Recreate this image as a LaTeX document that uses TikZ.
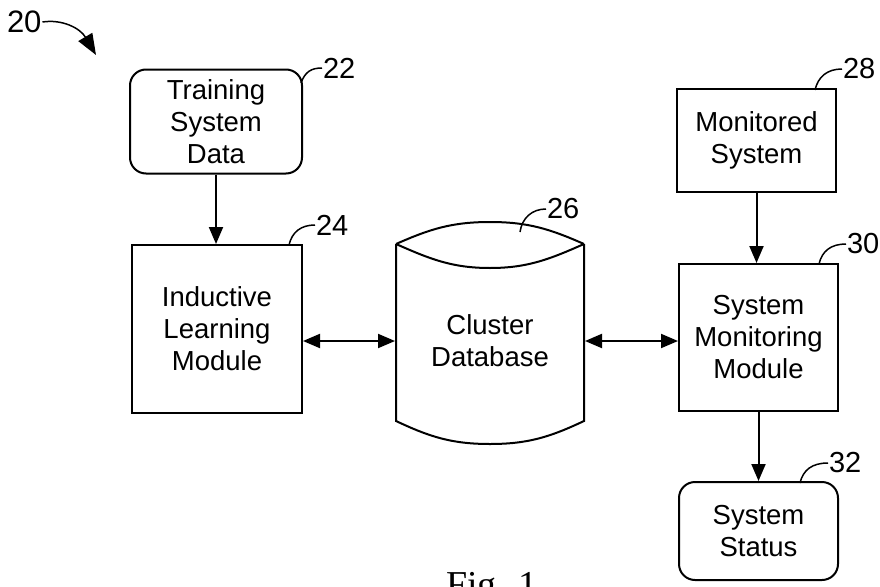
\documentclass[tikz,border=0pt]{standalone}
\usepackage{fontspec}
\setmainfont{Liberation Sans}
\newfontfamily\figfont{Liberation Serif}
\usetikzlibrary{arrows.meta}
\begin{document}
\begin{tikzpicture}[x=1pt,y=-1pt,
  line width=2pt,
  box/.style={draw, rectangle, align=center, inner sep=0pt, font=\fontsize{27.5}{32}\selectfont},
  rbox/.style={box, rounded corners=16pt},
  lbl/.style={font=\fontsize{29}{32}\selectfont, inner sep=0pt, anchor=west},
  arr/.style={-{Triangle[length=17pt,width=14pt]}},
  darr/.style={{Triangle[length=17pt,width=14pt]}-{Triangle[length=17pt,width=14pt]}},
  lead/.style={line width=1.5pt}]
\useasboundingbox (0,0) rectangle (880,586);

% boxes
\node[rbox, minimum width=172pt, minimum height=104pt] (tsd) at (216,121.5) {Training\\System\\Data};
\node[box, minimum width=170pt, minimum height=168pt] (ilm) at (217,329) {Inductive\\Learning\\Module};
\node[box, draw=none, minimum width=188pt, minimum height=160pt] (db) at (490,341) {Cluster\\Database};
\node[box, minimum width=159pt, minimum height=103pt] (mon) at (756.5,140.5) {Monitored\\System};
\node[box, minimum width=159pt, minimum height=147pt] (smm) at (758.5,337.5) {System\\Monitoring\\Module};
\node[rbox, minimum width=159pt, minimum height=98pt] (st) at (758.5,531) {System\\Status};

% cylinder
\draw (396,244) -- (396,421) .. controls (430,437) and (452,444) .. (490,444)
      .. controls (528,444) and (550,437) .. (584,421) -- (584,244);
\draw (396,244) .. controls (430,229) and (452,222) .. (490,222)
      .. controls (528,222) and (550,229) .. (584,244);
\draw (396,244) .. controls (430,259) and (452,268) .. (490,268)
      .. controls (528,268) and (550,259) .. (584,244);

% connectors
\draw[arr] (tsd.south) -- (tsd.south |- ilm.north);
\draw[darr] (ilm.east |- db.west) -- (db.west);
\draw[darr] (db.east) -- (db.east -| smm.west);
\draw[arr] (mon.south) -- (mon.south |- smm.north);
\draw[arr] (smm.south) -- (st.north);

% reference labels
\node[lbl] (l22) at (322,68) {22};
\draw[lead] (301,83) .. controls (305,72) and (311,68) .. (l22.west);
\node[lbl] (l24) at (315,225) {24};
\draw[lead] (289,245) .. controls (292,232) and (301,225) .. (l24.west);
\node[lbl] (l26) at (546,209) {26};
\draw[lead] (520,232) .. controls (522,218) and (532,209) .. (l26.west);
\node[lbl] (l28) at (842,69) {28};
\draw[lead] (815,90) .. controls (818,77) and (827,69) .. (l28.west);
\node[lbl] (l30) at (846,244) {30};
\draw[lead] (819,264) .. controls (822,251) and (831,244) .. (l30.west);
\node[lbl] (l32) at (828,463) {32};
\draw[lead] (800,483) .. controls (803,470) and (812,463) .. (l32.west);

\node[lbl, font=\fontsize{31}{32}\selectfont] (l20) at (6,22) {20};
\draw[lead, -{Triangle[length=21pt,width=16pt]}] (l20.east) .. controls (62,19) and (80,28) .. (96,55);

% caption
\node[font=\figfont\fontsize{38}{40}\selectfont, anchor=base, inner sep=0pt] (fig) at (492,597) {Fig. 1};
\end{tikzpicture}
\end{document}
